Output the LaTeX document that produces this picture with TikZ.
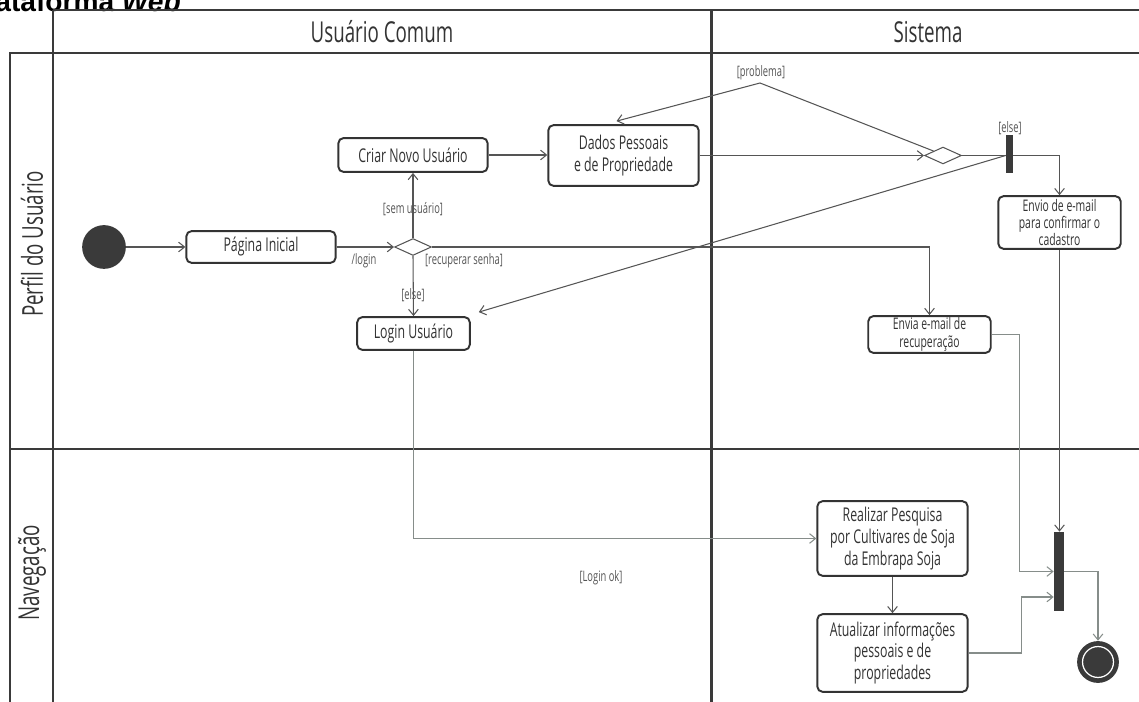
\documentclass[tikz,border=0pt]{standalone}
\usepackage{fontspec}
\setmainfont{Open Sans}[FakeStretch=0.65]
\newfontfamily\titlefont{Liberation Sans}
\usetikzlibrary{arrows.meta,calc,fit,shapes.geometric}
\definecolor{ink}{HTML}{333333}
\definecolor{lane}{HTML}{3A3A3A}
\definecolor{wire}{HTML}{555555}
\definecolor{wirelt}{HTML}{868D8A}
\newcommand\fsMain{\fontsize{10.8}{12.3}\selectfont}
\newcommand\fsSmall{\fontsize{9.1}{9.9}\selectfont}
\newcommand\fsLabel{\fontsize{8.2}{9}\selectfont}
\newcommand\fsHead{\fontsize{16.4}{18}\selectfont}
\begin{document}
\begin{tikzpicture}[x=0.02cm,y=-0.02cm,
  lanerule/.style={draw=lane,line width=1.7pt},
  act/.style={draw=ink,line width=1.1pt,rounded corners=3pt,inner sep=0pt,align=center,text=ink,font=\fsMain},
  actsmall/.style={act,font=\fsSmall},
  choice/.style={diamond,draw=wire,line width=0.6pt,inner sep=0pt,minimum width=21pt,minimum height=9.6pt},
  forkbar/.style={fill=lane,inner sep=0pt},
  initnode/.style={circle,fill=lane,inner sep=0pt,minimum size=24.9pt},
  lbl/.style={text=wire,font=\fsLabel,inner sep=0pt},
  head/.style={text=ink,font=\fsHead},
  flow/.style={draw=wire,line width=0.6pt,-{Straight Barb[length=3.4pt,width=5.5pt]}},
  flowlt/.style={flow,draw=wirelt},
]
\useasboundingbox (0,0) rectangle (1139,702);

% title, running off the top-left corner of the page
\node[anchor=base east,text=black,font=\titlefont\fontsize{16}{18}\selectfont\bfseries] (ttl) at (187,11.5) {Plataforma \textit{Web}};

% swimlane frame
\draw[lanerule] (53,10) -- (1150,10);
\draw[lanerule] (10,715) -- (10,53) -- (1150,53);
\draw[lanerule] (53,10) -- (53,715);
\draw[lanerule] (711,10) -- (711,715);
\draw[lanerule] (10,449) -- (1150,449);

\node[head] (hUser) at (382,32) {Usuário Comum};
\node[head] (hSys) at (928,32) {Sistema};
\node[head,rotate=90] (hPerfil) at (32,244) {Perfil do Usuário};
\node[head,rotate=90] (hNav) at (32,573) {Navegação};

% activities
\node[initnode] (ini) at (104,247) {};
\node[act,minimum width=85pt,minimum height=18.1pt] (pag) at (261,247) {Página Inicial};
\node[choice] (d1) at (413,247) {};
\node[act,minimum width=85pt,minimum height=19.3pt] (cri) at (413,155) {Criar Novo Usuário};
\node[act,minimum width=85.6pt,minimum height=34.6pt] (dad) at (623.5,155.5) {Dados Pessoais\\e de Propriedade};
\node[act,minimum width=64.1pt,minimum height=18.7pt] (login) at (413.5,333.5) {Login Usuário};
\node[choice] (d2) at (943,155.5) {};
\node[forkbar,fit={(1006,135) (1013,173)}] (f1) {};
\node[actsmall,minimum width=69.7pt,minimum height=30pt] (env) at (1059.5,222.5) {Envio de e-mail\\para confirmar o\\cadastro};
\node[actsmall,minimum width=69.7pt,minimum height=21pt] (rec) at (929.5,334.5) {Envia e-mail de\\recuperação};
\node[act,minimum width=85.6pt,minimum height=42.5pt] (rea) at (892.5,538.5) {Realizar Pesquisa\\por Cultivares de Soja\\da Embrapa Soja};
\node[act,minimum width=85.6pt,minimum height=44.2pt] (atu) at (892.5,653) {Atualizar informações\\pessoais e de\\propriedades};
\node[forkbar,fit={(1054,532) (1064,611)}] (j2) {};
\node[circle,fill=lane,inner sep=0pt,minimum size=23.8pt] (fin) at (1098,662) {};
\draw[white,line width=0.7pt] (fin.center) circle[radius=8.8pt];

% flows
\draw[flow] (ini) -- (pag);
\draw[flow] (pag) -- (d1);
\draw[flow] (d1.north) -- (cri.south);
\draw[flow] (d1.south) -- (login.north);
\draw[flow] (d1.east) -| (rec.north);
\draw[flow] (cri.east) -- (cri.east -| dad.west);
\draw[flow] (dad.east |- d2.west) -- (d2.west);
\draw[flow] (d2.north west) -- (760,83) coordinate (pbk) -- ($(dad.north)+(-7,-3)$);
\draw[wire,line width=0.6pt] (d2.east) -- (d2.east -| f1.west);
\draw[flow] (f1.east |- d2.east) -| (env.north);
\draw[flow] (f1.west |- d2.east) -- ($(login.north east)+(8,-4)$);
\draw[flow] (env.south) -- (env.south |- j2.north);
\draw[flowlt] (rec.east) -- ++(28,0) |- (j2.west);
\draw[flowlt] (atu.east) -- ++(53,0) |- ($(j2.west)+(0,25.5)$);
\draw[flowlt] (j2.east) -| (fin.north);
\draw[flowlt] (login.south) |- (rea.west);
\draw[flow] (rea.south) -- (atu.north);

% guards
\node[lbl] (gLogin) at (364,261) {/login};
\node[lbl] (gSem) at (413,209) {[sem usuário]};
\node[lbl] (gElse1) at (413,295) {[else]};
\node[lbl] (gRec) at (464,261) {[recuperar senha]};
\node[lbl] (gProb) at (761,73) {[problema]};
\node[lbl] (gElse2) at (1010,128) {[else]};
\node[lbl] (gOk) at (601,578) {[Login ok]};
\end{tikzpicture}
\end{document}
